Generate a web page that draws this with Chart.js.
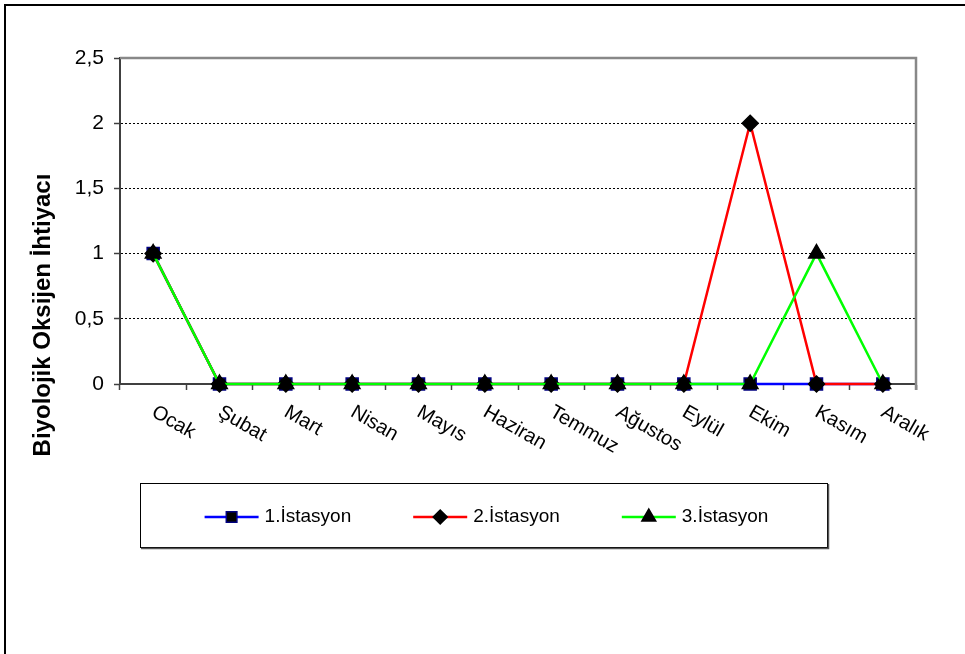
<!DOCTYPE html>
<html>
<head>
<meta charset="utf-8">
<script src="https://cdn.jsdelivr.net/npm/chart.js@4"></script>
<style>
  body { margin: 0; background: #fff; }
  canvas { display: block; }
</style>
</head>
<body>
<canvas id="bodChart" width="965" height="654"></canvas>
<script>
const months = ["Ocak", "Şubat", "Mart", "Nisan", "Mayıs", "Haziran", "Temmuz", "Ağustos", "Eylül", "Ekim", "Kasım", "Aralık"];
const istasyon1 = [1, 0, 0, 0, 0, 0, 0, 0, 0, 0, 0, 0];
const istasyon2 = [1, 0, 0, 0, 0, 0, 0, 0, 0, 2, 0, 0];
const istasyon3 = [1, 0, 0, 0, 0, 0, 0, 0, 0, 0, 1, 0];
const seriesNames = ["1.İstasyon", "2.İstasyon", "3.İstasyon"];
const yTitle = "Biyolojik Oksijen İhtiyacı";

const FONT = "'Liberation Sans', Arial, sans-serif";
Chart.defaults.font.family = FONT;
Chart.defaults.font.size = 21;
Chart.defaults.color = "#000";

const ctx = document.getElementById("bodChart").getContext("2d");

// frame, rotated month labels, axis title and boxed legend
const decor = {
    id: "decor",
    beforeDraw(chart) {
        const c = chart.ctx;
        c.save();
        c.strokeStyle = "#000";
        c.lineWidth = 2;
        c.beginPath();
        c.moveTo(5, chart.height);
        c.lineTo(5, 5);
        c.lineTo(chart.width, 5);
        c.stroke();
        c.restore();
    },
    beforeDatasetsDraw(chart) {
        const a = chart.chartArea;
        const c = chart.ctx;
        c.save();
        c.strokeStyle = "#888";
        c.lineWidth = 2.5;
        c.beginPath();
        c.moveTo(a.left, a.top);
        c.lineTo(a.right, a.top);
        c.lineTo(a.right, a.bottom + 6);
        c.stroke();
        c.restore();
    },
    afterDraw(chart) {
        const c = chart.ctx;
        const x = chart.scales.x;
        const a = chart.chartArea;

        c.save();
        c.font = "20px " + FONT;
        c.fillStyle = "#000";
        c.textAlign = "left";
        c.textBaseline = "top";
        months.forEach((m, i) => {
            c.save();
            c.translate(x.getPixelForValue(i) + 5, a.bottom + 18);
            c.rotate(30 * Math.PI / 180);
            c.fillText(m, 0, 0);
            c.restore();
        });
        c.restore();

        c.save();
        c.font = "bold 24px " + FONT;
        c.fillStyle = "#000";
        c.textAlign = "center";
        c.textBaseline = "middle";
        c.translate(43, 315);
        c.rotate(-Math.PI / 2);
        c.fillText(yTitle, 0, 0);
        c.restore();

        // legend box
        const box = { left: 140, top: 483, right: 827, bottom: 547 };
        c.save();
        c.strokeStyle = "#000";
        c.lineWidth = 1;
        c.strokeRect(box.left + 0.5, box.top + 0.5, box.right - box.left, box.bottom - box.top);
        c.strokeStyle = "#555";
        c.lineWidth = 1.5;
        c.beginPath();
        c.moveTo(box.left + 1, box.bottom + 1.5);
        c.lineTo(box.right + 1.5, box.bottom + 1.5);
        c.lineTo(box.right + 1.5, box.top + 1);
        c.stroke();

        c.font = "19px " + FONT;
        const seg = 54, gapText = 6, gapItem = 62;
        const widths = chart.data.datasets.map(d => seg + gapText + c.measureText(d.label).width);
        const total = widths.reduce((s, w) => s + w, 0) + gapItem * (widths.length - 1);
        let lx = (box.left + box.right) / 2 - total / 2 + 3;
        const ly = (box.top + box.bottom) / 2 + 2;
        chart.data.datasets.forEach((d, i) => {
            c.strokeStyle = d.borderColor;
            c.lineWidth = d.borderWidth;
            c.beginPath();
            c.moveTo(lx, ly);
            c.lineTo(lx + seg, ly);
            c.stroke();
            c.fillStyle = d.pointBackgroundColor;
            c.strokeStyle = d.pointBorderColor;
            c.lineWidth = d.pointBorderWidth;
            Chart.helpers.drawPoint(c, {
                pointStyle: d.pointStyle,
                radius: d.pointRadius - 1,
                rotation: 0,
                borderWidth: d.pointBorderWidth
            }, lx + seg / 2, ly);
            c.fillStyle = "#000";
            c.textAlign = "left";
            c.textBaseline = "middle";
            c.fillText(d.label, lx + seg + gapText, ly);
            lx += widths[i] + gapItem;
        });
        c.restore();
    }
};

function series(label, data, color, style, radius, fill, edge, order) {
    return {
        label: label,
        data: data,
        borderColor: color,
        borderWidth: 2.5,
        tension: 0,
        pointStyle: style,
        pointRadius: radius,
        pointBackgroundColor: fill,
        pointBorderColor: edge,
        pointBorderWidth: 1.5,
        clip: false,
        order: order
    };
}

new Chart(ctx, {
    type: "line",
    data: {
        labels: months,
        datasets: [
            series(seriesNames[0], istasyon1, "#0000FF", "rect", 8.5, "#000000", "#000080", 3),
            series(seriesNames[1], istasyon2, "#FF0000", "rectRot", 8, "#000000", "#000000", 2),
            series(seriesNames[2], istasyon3, "#00FF00", "triangle", 9, "#000000", "#000000", 1)
        ]
    },
    options: {
        responsive: false,
        animation: false,
        events: [],
        layout: { padding: { left: 10, top: 58, right: 49, bottom: 0 } },
        plugins: {
            legend: { display: false },
            tooltip: { enabled: false }
        },
        scales: {
            x: {
                offset: true,
                afterFit: s => { s.height = 270; },
                ticks: { display: false },
                grid: {
                    offset: true,
                    drawOnChartArea: false,
                    drawTicks: true,
                    tickLength: 6,
                    tickColor: "#404040",
                    tickWidth: 1.5
                },
                border: { color: "#404040", width: 2 }
            },
            y: {
                min: 0,
                max: 2.5,
                afterFit: s => { s.width = 110; },
                ticks: {
                    stepSize: 0.5,
                    padding: 10,
                    callback: v => String(v).replace(".", ",")
                },
                grid: {
                    color: "#000",
                    lineWidth: 1,
                    tickLength: 6,
                    tickColor: "#404040",
                    tickWidth: 1.5,
                    tickBorderDash: []
                },
                border: { color: "#404040", width: 2, dash: [2, 2] }
            }
        }
    },
    plugins: [decor]
});
</script>
</body>
</html>
